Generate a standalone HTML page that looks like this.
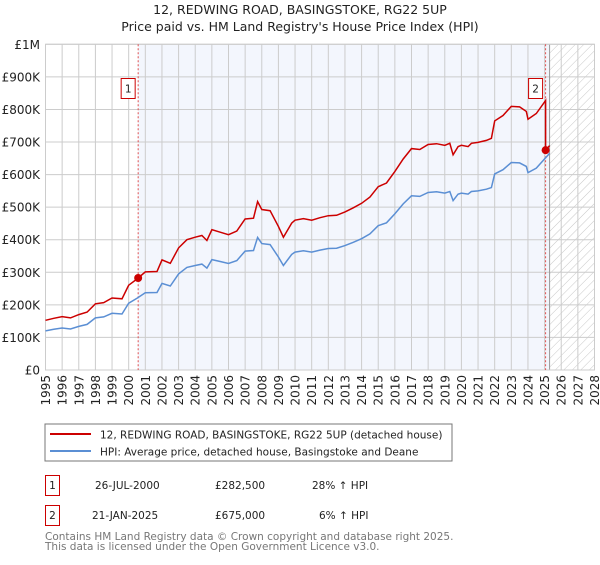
<!DOCTYPE html>
<html><head><meta charset="utf-8"><style>
body{margin:0;background:#fff;font-family:"Liberation Sans","DejaVu Sans",sans-serif;}
svg text{font-family:"DejaVu Sans","Liberation Sans",sans-serif;}
</style></head><body>
<svg id="chart" width="600" height="560" xmlns="http://www.w3.org/2000/svg">
<defs><pattern id="hatch" width="6" height="6" patternUnits="userSpaceOnUse" patternTransform="rotate(45)"><line x1="0" y1="0" x2="0" y2="6" stroke="#c8c8c8" stroke-width="1"/></pattern></defs>
<text x="300" y="14" text-anchor="middle" font-size="12.5" fill="#222">12, REDWING ROAD, BASINGSTOKE, RG22 5UP</text>
<text x="300" y="31" text-anchor="middle" font-size="12.5" fill="#222">Price paid vs. HM Land Registry's House Price Index (HPI)</text>
<g id="plot"></g>
<rect x="45" y="424" width="407" height="37" fill="#fff" stroke="#777"/>
<line x1="50" y1="434" x2="91" y2="434" stroke="#cc0000" stroke-width="2"/>
<text x="100" y="438.5" font-size="10.5" fill="#222">12, REDWING ROAD, BASINGSTOKE, RG22 5UP (detached house)</text>
<line x1="50" y1="451" x2="91" y2="451" stroke="#5b8fd4" stroke-width="2"/>
<text x="100" y="455.5" font-size="10.5" fill="#222">HPI: Average price, detached house, Basingstoke and Deane</text>
<g>
<rect x="45.5" y="475.5" width="14" height="20" fill="#fff" stroke="#cc0000"/>
<text x="52.5" y="489" text-anchor="middle" font-size="10.5" fill="#222">1</text>
<text x="95" y="489" font-size="10.5" fill="#222">26-JUL-2000</text>
<text x="215" y="489" font-size="10.5" fill="#222">£282,500</text>
<text x="312" y="489" font-size="10.5" fill="#222">28% ↑ HPI</text></g>
<g>
<rect x="45.5" y="505.5" width="14" height="20" fill="#fff" stroke="#cc0000"/>
<text x="52.5" y="519" text-anchor="middle" font-size="10.5" fill="#222">2</text>
<text x="92" y="519" font-size="10.5" fill="#222">21-JAN-2025</text>
<text x="215" y="519" font-size="10.5" fill="#222">£675,000</text>
<text x="319" y="519" font-size="10.5" fill="#222">6% ↑ HPI</text></g>
<text x="45" y="540" font-size="10.5" fill="#777">Contains HM Land Registry data © Crown copyright and database right 2025.</text>
<text x="45" y="550" font-size="10.5" fill="#777">This data is licensed under the Open Government Licence v3.0.</text>
</svg>
<script>
const hpiYears=[1995,1995.5,1996,1996.5,1997,1997.5,1998,1998.5,1999,1999.6,2000,2000.5,2001,2001.7,2002,2002.5,2003,2003.5,2004,2004.4,2004.7,2005,2005.5,2006,2006.5,2007,2007.5,2007.75,2008,2008.5,2009,2009.3,2009.8,2010,2010.5,2011,2011.5,2012,2012.5,2013,2013.5,2014,2014.5,2015,2015.5,2016,2016.5,2017,2017.5,2018,2018.5,2019,2019.3,2019.5,2019.8,2020,2020.4,2020.6,2021,2021.5,2021.8,2022,2022.5,2023,2023.5,2023.9,2024,2024.5,2025,2025.3];
const hpiValues=[120,125,129,126,134,140,160,163,174,172,205,220,237,238,266,258,295,315,321,325,313,339,333,327,336,365,367,407,388,385,347,321,355,362,366,362,368,373,374,382,392,403,418,443,452,480,510,535,533,545,547,543,548,520,540,543,540,548,550,555,560,602,615,637,636,625,606,620,648,665];
const saleYears=[2000.57,2025.06];
const saleValues=[282.5,675];
const yTicks=[0,100,200,300,400,500,600,700,800,900,1000];
const yTickLabels=["£0","£100K","£200K","£300K","£400K","£500K","£600K","£700K","£800K","£900K","£1M"];
const xTicks=[];for(let y=1995;y<=2028;y++)xTicks.push(y);
const x0=45.5,x1=594.5,yT=44.3,yB=370;
const X=v=>x0+(v-1995)/(2028-1995)*(x1-x0);
const Y=v=>yB-v/1000*(yB-yT);
const NS="http://www.w3.org/2000/svg";
const g=document.getElementById('plot');
function mk(t,a){const e=document.createElementNS(NS,t);for(const k in a)e.setAttribute(k,a[k]);g.appendChild(e);return e;}
function hpiAt(t){for(let i=1;i<hpiYears.length;i++){if(t<=hpiYears[i]){const f=(t-hpiYears[i-1])/(hpiYears[i]-hpiYears[i-1]);return hpiValues[i-1]+f*(hpiValues[i]-hpiValues[i-1]);}}return hpiValues[hpiValues.length-1];}
const lastYear=hpiYears[hpiYears.length-1];
let e;
e=mk('rect',{x:X(saleYears[0]),y:yT,width:X(lastYear)-X(saleYears[0]),height:yB-yT,fill:'#f3f6fd'});


e=mk('rect',{x:X(lastYear),y:yT,width:x1-X(lastYear),height:yB-yT,fill:'url(#hatch)'});


yTicks.forEach((v,i)=>{
 e=mk('line',{x1:x0,x2:x1,y1:Y(v),y2:Y(v),stroke:'#ccc','stroke-width':1});
 
 
 e=mk('text',{x:40,y:Y(v)+4.5,'text-anchor':'end','font-size':12,fill:'#222'});e.textContent=yTickLabels[i];
 
 
});
xTicks.forEach(v=>{
 e=mk('line',{x1:X(v),x2:X(v),y1:yT,y2:yB,stroke:'#ccc','stroke-width':1});
 
 
 e=mk('text',{x:0,y:0,'text-anchor':'end','font-size':12,fill:'#222',transform:`translate(${X(v)+4.5},375) rotate(-90)`});e.textContent=v;
 
 
});
e=mk('line',{x1:X(lastYear),x2:X(lastYear),y1:yT,y2:yB,stroke:'#999','stroke-width':1});


e=mk('rect',{x:x0,y:yT,width:x1-x0,height:yB-yT,fill:'none',stroke:'#ccc'});


saleYears.forEach((s,i)=>{
 e=mk('line',{x1:X(s),x2:X(s),y1:yT,y2:yB,stroke:'#e05050','stroke-width':1,'stroke-dasharray':'2,2'});
 
 
});
// HPI line
let d='';hpiYears.forEach((t,i)=>{d+=(i?'L':'M')+X(t).toFixed(1)+','+Y(hpiValues[i]).toFixed(1);});
e=mk('path',{d:d,fill:'none',stroke:'#5b8fd4','stroke-width':1.5});


// property line: HPI-indexed from sales
const f0=saleValues[0]/hpiAt(saleYears[0]);
const f1=saleValues[1]/hpiAt(saleYears[1]);
const pts=[];
hpiYears.forEach((t,i)=>{if(t<saleYears[1])pts.push([t,hpiValues[i]*f0]);});
pts.push([saleYears[1],hpiAt(saleYears[1])*f0]);
pts.push([saleYears[1],saleValues[1]]);
hpiYears.forEach((t,i)=>{if(t>saleYears[1])pts.push([t,hpiValues[i]*f1]);});
d='';pts.forEach((p,i)=>{d+=(i?'L':'M')+X(p[0]).toFixed(1)+','+Y(p[1]).toFixed(1);});
e=mk('path',{d:d,fill:'none',stroke:'#cc0000','stroke-width':1.5});


saleYears.forEach((s,i)=>{
 e=mk('circle',{cx:X(s),cy:Y(saleValues[i]),r:4,fill:'#cc0000'});
 
 
 const bx=X(s)-17.5;
 e=mk('rect',{x:bx+0.5,y:78.5,width:14,height:20,fill:'#fff',stroke:'#cc0000'});
 
 
 e=mk('text',{x:bx+7.5,y:92.5,'text-anchor':'middle','font-size':10.5,fill:'#222'});e.textContent=String(i+1);
 
 
});
</script>
</body></html>
